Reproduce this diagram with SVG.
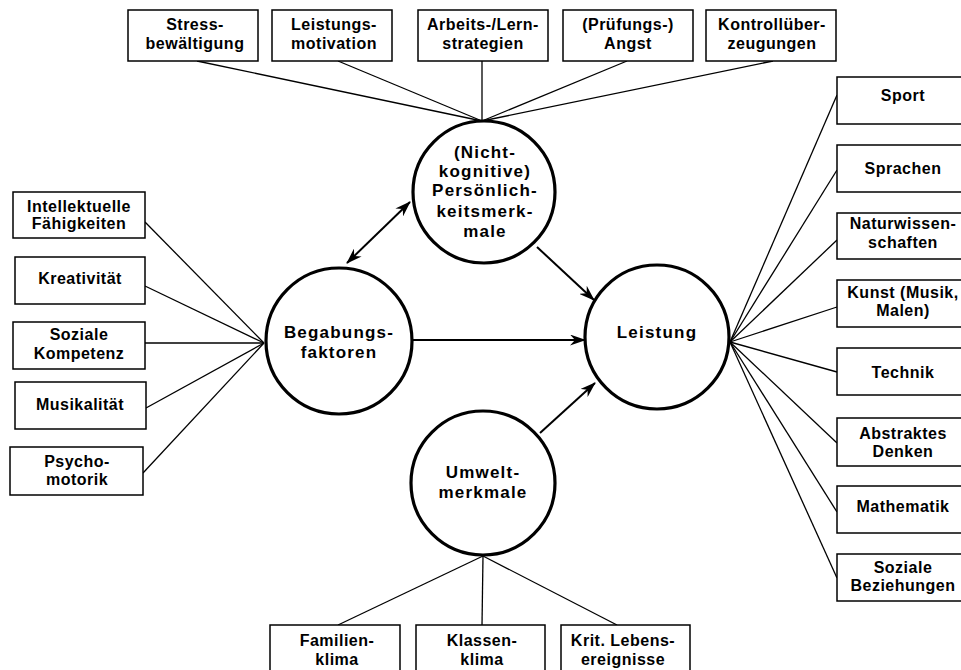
<svg xmlns="http://www.w3.org/2000/svg" width="961" height="670" viewBox="0 0 961 670">
<defs>
<style>
.box{fill:#fff;stroke:#000;stroke-width:1.5}
.circ{fill:#fff;stroke:#000;stroke-width:3.2}
.t{font-family:"Liberation Sans",Arial,sans-serif;font-weight:bold;font-size:16px;letter-spacing:0.5px;text-anchor:middle;fill:#000}
.ct{font-family:"Liberation Sans",Arial,sans-serif;font-weight:bold;font-size:17px;letter-spacing:1.2px;text-anchor:middle;fill:#000}
.ln{stroke:#000;stroke-width:1.3;fill:none}
.ar{stroke:#000;stroke-width:2;fill:none}
</style>
<marker id="ah" viewBox="0 0 16 11" refX="15" refY="5.5" markerWidth="16" markerHeight="11" markerUnits="userSpaceOnUse" orient="auto-start-reverse">
<path d="M0,0 L16,5.5 L0,11 L5,5.5 z" fill="#000"/>
</marker>
</defs>
<rect width="961" height="670" fill="#fff"/>
<g id="connectors">
<line class="ln" x1="197" y1="61" x2="482" y2="121"/>
<line class="ln" x1="338" y1="61" x2="482" y2="121"/>
<line class="ln" x1="482" y1="61" x2="482" y2="121"/>
<line class="ln" x1="627" y1="61" x2="482" y2="121"/>
<line class="ln" x1="773" y1="61" x2="482" y2="121"/>
<line class="ln" x1="145" y1="222" x2="264" y2="343"/>
<line class="ln" x1="145" y1="286" x2="264" y2="343"/>
<line class="ln" x1="145" y1="343" x2="264" y2="343"/>
<line class="ln" x1="146" y1="408" x2="264" y2="343"/>
<line class="ln" x1="143" y1="473" x2="264" y2="343"/>
<line class="ln" x1="837" y1="95" x2="730" y2="342"/>
<line class="ln" x1="837" y1="170" x2="730" y2="342"/>
<line class="ln" x1="837" y1="240" x2="730" y2="342"/>
<line class="ln" x1="837" y1="307" x2="730" y2="342"/>
<line class="ln" x1="837" y1="372" x2="730" y2="342"/>
<line class="ln" x1="837" y1="443" x2="730" y2="342"/>
<line class="ln" x1="837" y1="512" x2="730" y2="342"/>
<line class="ln" x1="837" y1="578" x2="730" y2="342"/>
<line class="ln" x1="338" y1="625" x2="483" y2="556"/>
<line class="ln" x1="482" y1="625" x2="483" y2="556"/>
<line class="ln" x1="617" y1="625" x2="483" y2="556"/>
<line class="ar" x1="347" y1="263" x2="410" y2="202" marker-start="url(#ah)" marker-end="url(#ah)"/>
<line class="ar" x1="537" y1="247" x2="594" y2="300" marker-end="url(#ah)"/>
<line class="ar" x1="412" y1="340" x2="585" y2="340" stroke-width="2.8" marker-end="url(#ah)"/>
<line class="ar" x1="540" y1="433" x2="595" y2="383" marker-end="url(#ah)"/>
</g>
<g id="n-stress"><rect class="box" x="128" y="10" width="130" height="51"/><text class="t" x="195" y="30">Stress-</text><text class="t" x="195" y="49">bewältigung</text></g>
<g id="n-leistungsmotivation"><rect class="box" x="272" y="10" width="120" height="51"/><text class="t" x="334" y="30">Leistungs-</text><text class="t" x="334" y="49">motivation</text></g>
<g id="n-arbeits"><rect class="box" x="418" y="10" width="130" height="51"/><text class="t" x="483" y="30">Arbeits-/Lern-</text><text class="t" x="483" y="49">strategien</text></g>
<g id="n-angst"><rect class="box" x="563" y="10" width="130" height="51"/><text class="t" x="628" y="30">(Prüfungs-)</text><text class="t" x="628" y="49">Angst</text></g>
<g id="n-kontroll"><rect class="box" x="706" y="10" width="130" height="51"/><text class="t" x="772" y="30">Kontrollüber-</text><text class="t" x="772" y="49">zeugungen</text></g>
<g id="n-intellektuelle"><rect class="box" x="13" y="192" width="132" height="46"/><text class="t" x="79" y="212">Intellektuelle</text><text class="t" x="79" y="229">Fähigkeiten</text></g>
<g id="n-kreativitaet"><rect class="box" x="15" y="257" width="130" height="47"/><text class="t" x="80" y="284">Kreativität</text></g>
<g id="n-sozkomp"><rect class="box" x="13" y="322" width="132" height="47"/><text class="t" x="79" y="340">Soziale</text><text class="t" x="79" y="359">Kompetenz</text></g>
<g id="n-musik"><rect class="box" x="15" y="382" width="131" height="47"/><text class="t" x="80" y="410">Musikalität</text></g>
<g id="n-psycho"><rect class="box" x="10" y="447" width="133" height="48"/><text class="t" x="77" y="467">Psycho-</text><text class="t" x="77" y="485">motorik</text></g>
<g id="n-sport"><rect class="box" x="837" y="77" width="140" height="47"/><text class="t" x="903" y="101">Sport</text></g>
<g id="n-sprachen"><rect class="box" x="837" y="145" width="140" height="47"/><text class="t" x="903" y="174">Sprachen</text></g>
<g id="n-natur"><rect class="box" x="837" y="213" width="140" height="46"/><text class="t" x="903" y="229">Naturwissen-</text><text class="t" x="903" y="248">schaften</text></g>
<g id="n-kunst"><rect class="box" x="837" y="280" width="140" height="47"/><text class="t" x="903" y="298">Kunst (Musik,</text><text class="t" x="903" y="316">Malen)</text></g>
<g id="n-technik"><rect class="box" x="837" y="348" width="140" height="47"/><text class="t" x="903" y="378">Technik</text></g>
<g id="n-abstrakt"><rect class="box" x="837" y="418" width="140" height="48"/><text class="t" x="903" y="439">Abstraktes</text><text class="t" x="903" y="457">Denken</text></g>
<g id="n-mathe"><rect class="box" x="837" y="486" width="140" height="47"/><text class="t" x="903" y="512">Mathematik</text></g>
<g id="n-sozbez"><rect class="box" x="837" y="554" width="140" height="47"/><text class="t" x="903" y="573">Soziale</text><text class="t" x="903" y="591">Beziehungen</text></g>
<g id="n-familien"><rect class="box" x="270" y="625" width="130" height="70"/><text class="t" x="337" y="646">Familien-</text><text class="t" x="337" y="665">klima</text></g>
<g id="n-klassen"><rect class="box" x="416" y="625" width="129" height="70"/><text class="t" x="482" y="646">Klassen-</text><text class="t" x="482" y="665">klima</text></g>
<g id="n-krit"><rect class="box" x="561" y="625" width="129" height="70"/><text class="t" x="623" y="646">Krit. Lebens-</text><text class="t" x="623" y="665">ereignisse</text></g>
<g id="n-persoenlichkeit"><circle class="circ" cx="484" cy="192" r="71"/><text class="ct" x="485" y="158">(Nicht-</text><text class="ct" x="485" y="177">kognitive)</text><text class="ct" x="485" y="196">Persönlich-</text><text class="ct" x="485" y="217">keitsmerk-</text><text class="ct" x="485" y="237">male</text></g>
<g id="n-begabung"><circle class="circ" cx="339" cy="341" r="73"/><text class="ct" x="339" y="338">Begabungs-</text><text class="ct" x="339" y="358">faktoren</text></g>
<g id="n-leistung"><circle class="circ" cx="657" cy="337" r="72"/><text class="ct" x="657" y="338">Leistung</text></g>
<g id="n-umwelt"><circle class="circ" cx="483" cy="483" r="72"/><text class="ct" x="483" y="478">Umwelt-</text><text class="ct" x="483" y="498">merkmale</text></g>
</svg>
